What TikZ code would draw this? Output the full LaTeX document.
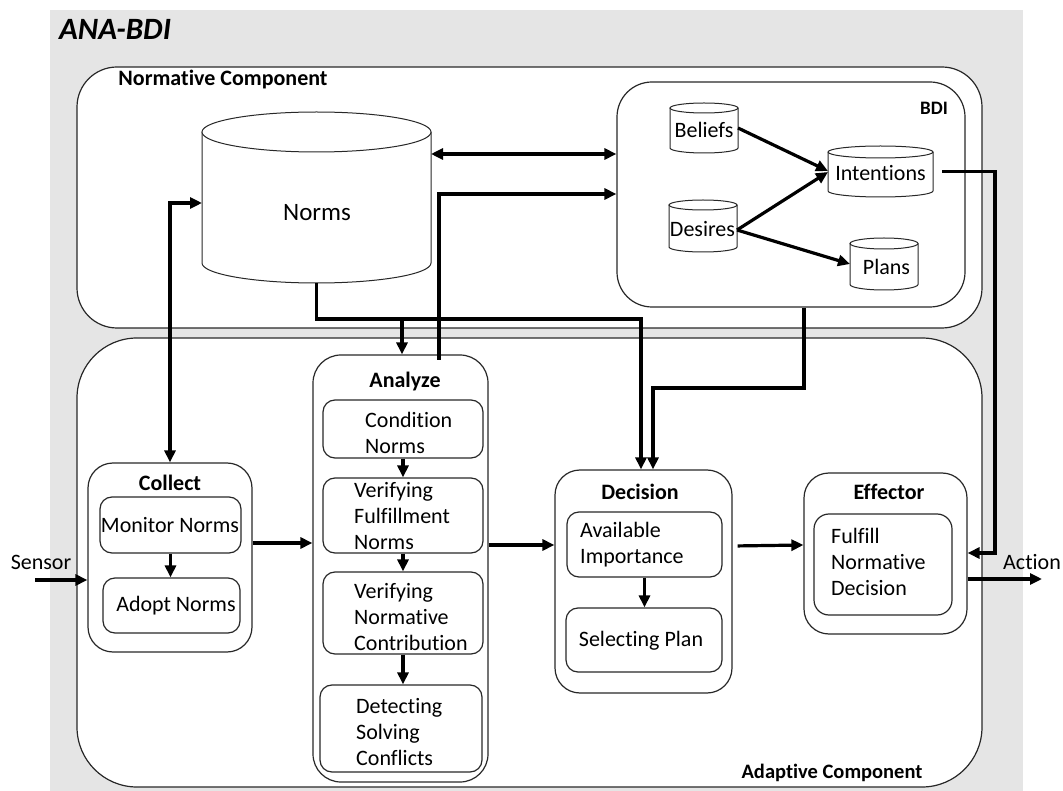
\documentclass[tikz,border=0pt]{standalone}
\usepackage{fontspec}
\setmainfont{Carlito}[Ligatures=NoCommon]
\usetikzlibrary{arrows.meta,calc}
\definecolor{panelgray}{RGB}{229,229,229}
\definecolor{edge}{RGB}{40,40,40}

% cylinder store: name, left, right, top, bottom, ellipse half-height
\newcommand\drum[6]{%
  \node[inner sep=0pt, outer sep=0pt, minimum width={(#3-#2)*1pt}, minimum height={(#5-#4)*1pt}] (#1) at ({(#2+#3)/2},{(#4+#5)/2}) {};
  \draw[drumline] (#2,{#4+#6}) -- (#2,{#5-#6})
     arc[start angle=180, end angle=360, x radius={(#3-#2)/2*1pt}, y radius=#6pt] -- (#3,{#4+#6});
  \draw[drumline] ({(#2+#3)/2},{#4+#6}) ellipse[x radius={(#3-#2)/2*1pt}, y radius=#6pt];
}

\begin{document}
\begin{tikzpicture}[x=1pt, y=-1pt,
  frame/.style={draw=edge, line width=1.2pt, fill=white, inner sep=0pt},
  group/.style={frame, rounded corners=25pt},
  sub/.style={frame, rounded corners=12pt},
  drumline/.style={draw=edge, line width=1pt, fill=white},
  txt/.style={inner sep=0pt, font=\fontsize{22}{26}\selectfont, align=left},
  ttl/.style={inner sep=0pt, font=\fontsize{22}{26}\selectfont\bfseries},
  link/.style={line width=3.2pt, -{Triangle[length=12pt,width=11pt]}},
  twoway/.style={line width=3.2pt, {Triangle[length=12pt,width=11pt]}-{Triangle[length=12pt,width=11pt]}}]

\useasboundingbox (0,0) rectangle (1063,791);
\fill[panelgray] (50,10) rectangle (1023,791);

\node[inner sep=0pt, anchor=west, font=\fontsize{31}{34}\selectfont\bfseries\itshape] (title) at (59,29.5) {ANA-BDI};

% ---------- normative part ----------
\node[frame, rounded corners=40pt, minimum width=905pt, minimum height=261pt] (normative) at (529.5,197.5) {};
\node[ttl] (normative-t) at (223,80) {Normative Component};

\drum{norms}{202}{431}{112}{283}{20}
\node[inner sep=0pt, font=\fontsize{25}{30}\selectfont] (norms-t) at (317,213) {Norms};

\node[frame, rounded corners=35pt, minimum width=348pt, minimum height=225pt] (bdi) at (791,194.5) {};
\node[inner sep=0pt, font=\fontsize{19}{22}\selectfont\bfseries] (bdi-t) at (934,108) {BDI};

\drum{beliefs}{670}{738}{103}{153}{5}
\node[txt] (beliefs-t) at (704,130) {Beliefs};
\drum{desires}{669}{737}{200}{252}{5}
\node[txt] (desires-t) at (702.5,229) {Desires};
\drum{intent}{828}{933}{146}{197}{6}
\node[txt] (intent-t) at (880.5,173) {Intentions};
\drum{plans}{850}{918}{238}{290}{5.5}
\node[txt] (plans-t) at (886.5,267) {Plans};

% ---------- adaptive part ----------
\node[frame, rounded corners=60pt, minimum width=905pt, minimum height=449pt] (adaptive) at (529.5,562.5) {};
\node[inner sep=0pt, font=\fontsize{20.5}{24}\selectfont\bfseries] (adaptive-t) at (832,773) {Adaptive Component};

% Collect
\node[group, minimum width=164pt, minimum height=189pt] (collect) at (170,557.5) {};
\node[ttl] (collect-t) at (170,483) {Collect};
\node[sub, minimum width=141pt, minimum height=56pt] (monitor) at (170.5,525) {};
\node[txt] (monitor-t) at (170,525) {Monitor Norms};
\node[sub, minimum width=137pt, minimum height=55pt] (adopt) at (171.5,605.5) {};
\node[txt] (adopt-t) at (176,606) {Adopt Norms};

% Analyze
\node[group, rounded corners=28pt, minimum width=175pt, minimum height=427pt] (analyze) at (400.5,568.5) {};
\node[ttl] (analyze-t) at (405,382) {Analyze};
\node[sub, minimum width=160pt, minimum height=58pt] (cond) at (403,429) {};
\node[txt, anchor=west] (cond-t) at (365,432.5) {Condition\\Norms};
\node[sub, minimum width=160pt, minimum height=75pt] (verf) at (403,515.5) {};
\node[txt, anchor=west] (verf-t) at (354,516) {Verifying\\Fulfillment\\Norms};
\node[sub, minimum width=160pt, minimum height=82pt] (vnc) at (403,613) {};
\node[txt, anchor=west] (vnc-t) at (354,617) {Verifying\\Normative\\Contribution};
\node[sub, minimum width=162pt, minimum height=87pt] (dsc) at (401,728.5) {};
\node[txt, anchor=west] (dsc-t) at (356,732) {Detecting\\Solving\\Conflicts};

% Decision
\node[group, minimum width=177pt, minimum height=223pt] (decision) at (643.5,581.5) {};
\node[ttl] (decision-t) at (640,492) {Decision};
\node[sub, minimum width=155pt, minimum height=65pt] (avail) at (644.5,544.5) {};
\node[txt, anchor=west] (avail-t) at (580,545) {Available\\Importance};
\node[sub, minimum width=156pt, minimum height=64pt] (select) at (644,640) {};
\node[txt] (select-t) at (641,641) {Selecting Plan};

% Effector
\node[group, minimum width=163pt, minimum height=161pt] (effector) at (885.5,553.5) {};
\node[ttl] (effector-t) at (889,492) {Effector};
\node[sub, rounded corners=15pt, minimum width=138pt, minimum height=101pt] (fulfill) at (883,564.5) {};
\node[txt, anchor=west] (fulfill-t) at (831,561.5) {Fulfill\\Normative\\Decision};

% Sensor and Action
\node[txt] (sensor-t) at (41,562) {Sensor};
\coordinate (sensor-src) at (35,580);
\node[txt] (action-t) at (1032,562) {Action};
\coordinate (action-dst) at (1042,579);

% ---------- connectors ----------
\coordinate (an-out) at (439,360);
\coordinate (tap) at (402,319);
\coordinate (bdi-drop) at (804,388);
\coordinate (ret-corner) at (995,553);

\draw[link] (beliefs.east) -- ($(intent.west)+(0,-0.5)$);
\draw[link] ($(desires.east)+(0,4)$) -- ($(intent.west)+(0,0.5)$);
\draw[link] ($(desires.east)+(0,4)$) -- ($(plans.west)+(0,0)$);

\draw[twoway] (norms.east |- 0,154) -- (bdi.west |- 0,154);
\draw[link] (an-out) |- (bdi.west |- 0,194);
\draw[link] (norms.south) -- (norms.south |- tap) -| ($(decision.north)+(-2.5,0)$);
\draw[link] (tap) -- (tap |- analyze.north);
\draw[link] (bdi.south -| bdi-drop) -- (bdi-drop) -| ($(decision.north)+(9.5,0)$);
\draw[link, shorten <=9pt] (intent.east) -| (ret-corner) -- (effector.east |- ret-corner);
\draw[twoway] (norms.west |- 0,203) -| (collect.north);

\draw[link] (sensor-src) -- (collect.west |- sensor-src);
\draw[link] (collect.east |- 0,543) -- (analyze.west |- 0,543);
\draw[link] (analyze.east |- 0,545) -- (decision.west |- 0,545);
\draw[link, shorten <=5pt] (decision.east |- 0,546) -- (effector.west |- 0,545);
\draw[link] (effector.east |- action-dst) -- (action-dst);

\draw[link] (monitor.south) -- (monitor.south |- adopt.north);
\draw[link] (cond.south) -- (verf.north);
\draw[link] (verf.south) -- (vnc.north);
\draw[link] (vnc.south) -- (vnc.south |- dsc.north);
\draw[link] (avail.south) -- (avail.south |- select.north);
\end{tikzpicture}
\end{document}
